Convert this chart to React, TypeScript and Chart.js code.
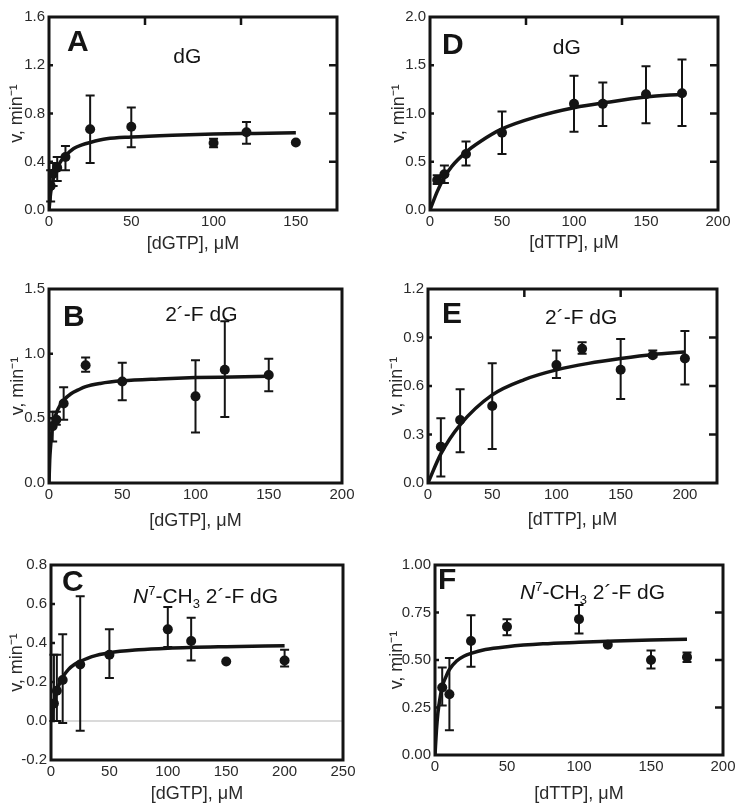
import React, { useEffect, useRef } from 'react';
import { Chart, registerables } from 'chart.js';

Chart.register(...registerables);

const FONT = '"Liberation Sans", Arial, Helvetica, sans-serif';

// ---------- Panel A : dG, [dGTP] ----------
const aX = [1, 2.5, 5, 10, 25, 50, 100, 120, 150];
const aY = [0.2, 0.3, 0.35, 0.44, 0.67, 0.69, 0.555, 0.645, 0.56];
const aLo = [0.07, 0.2, 0.24, 0.33, 0.39, 0.52, 0.52, 0.55, null];
const aHi = [0.33, 0.39, 0.44, 0.53, 0.95, 0.85, 0.59, 0.73, null];
const aFitX = [0, 1, 2, 3, 5, 7.5, 10, 15, 20, 25, 35, 50, 75, 100, 125, 150];
const aFitY = [0, 0.14, 0.22, 0.28, 0.35, 0.41, 0.45, 0.51, 0.54, 0.56, 0.59, 0.605, 0.62, 0.63, 0.635, 0.64];
const aXTicks = [0, 50, 100, 150];
const aYTicks = [0, 0.4, 0.8, 1.2, 1.6];

// ---------- Panel B : 2'-F dG, [dGTP] ----------
const bX = [2.5, 5, 10, 25, 50, 100, 120, 150];
const bY = [0.44, 0.49, 0.615, 0.91, 0.785, 0.67, 0.875, 0.835];
const bLo = [0.32, 0.45, 0.49, 0.86, 0.64, 0.39, 0.51, 0.71];
const bHi = [0.55, 0.55, 0.74, 0.97, 0.93, 0.95, 1.25, 0.96];
const bFitX = [0, 0.5, 1, 2, 3, 5, 7.5, 10, 15, 20, 25, 35, 50, 75, 100, 125, 150];
const bFitY = [0, 0.18, 0.27, 0.4, 0.46, 0.54, 0.6, 0.64, 0.69, 0.72, 0.745, 0.77, 0.79, 0.805, 0.815, 0.82, 0.825];
const bXTicks = [0, 50, 100, 150, 200];
const bYTicks = [0, 0.5, 1.0, 1.5];

// ---------- Panel C : N7-CH3 2'-F dG, [dGTP] ----------
const cX = [2.5, 5, 10, 25, 50, 100, 120, 150, 200];
const cY = [0.09, 0.155, 0.21, 0.29, 0.34, 0.47, 0.41, 0.305, 0.31];
const cLo = [0, 0, -0.01, -0.05, 0.22, 0.38, 0.31, null, 0.28];
const cHi = [0.34, 0.34, 0.445, 0.64, 0.47, 0.585, 0.53, null, 0.365];
const cFitX = [0, 2.5, 5, 7.5, 10, 15, 20, 25, 35, 50, 75, 100, 150, 200];
const cFitY = [0, 0.09, 0.155, 0.195, 0.225, 0.265, 0.29, 0.305, 0.33, 0.35, 0.365, 0.373, 0.381, 0.386];
const cXTicks = [0, 50, 100, 150, 200, 250];
const cYTicks = [-0.2, 0, 0.2, 0.4, 0.6, 0.8];

// ---------- Panel D : dG, [dTTP] ----------
const dX = [5, 10, 25, 50, 100, 120, 150, 175];
const dY = [0.31, 0.37, 0.58, 0.8, 1.1, 1.1, 1.2, 1.21];
const dLo = [0.27, 0.28, 0.46, 0.58, 0.81, 0.87, 0.9, 0.87];
const dHi = [0.36, 0.46, 0.71, 1.02, 1.39, 1.32, 1.49, 1.56];
const dFitX = [0, 5, 10, 15, 25, 35, 50, 75, 100, 125, 150, 175];
const dFitY = [0, 0.19, 0.34, 0.45, 0.6, 0.71, 0.84, 0.97, 1.06, 1.12, 1.17, 1.2];
const dXTicks = [0, 50, 100, 150, 200];
const dYTicks = [0, 0.5, 1.0, 1.5, 2.0];

// ---------- Panel E : 2'-F dG, [dTTP] ----------
const eX = [10, 25, 50, 100, 120, 150, 175, 200];
const eY = [0.225, 0.39, 0.476, 0.73, 0.83, 0.7, 0.79, 0.77];
const eLo = [0.04, 0.19, 0.21, 0.65, 0.8, 0.52, 0.78, 0.61];
const eHi = [0.4, 0.58, 0.74, 0.82, 0.87, 0.89, 0.82, 0.94];
const eFitX = [0, 10, 25, 50, 75, 100, 125, 150, 175, 200];
const eFitY = [0, 0.18, 0.36, 0.545, 0.64, 0.7, 0.74, 0.77, 0.795, 0.81];
const eXTicks = [0, 50, 100, 150, 200];
const eYTicks = [0, 0.3, 0.6, 0.9, 1.2];

// ---------- Panel F : N7-CH3 2'-F dG, [dTTP] ----------
const fX = [5, 10, 25, 50, 100, 120, 150, 175];
const fY = [0.355, 0.32, 0.6, 0.675, 0.715, 0.58, 0.5, 0.515];
const fLo = [0.26, 0.13, 0.465, 0.63, 0.64, null, 0.455, 0.49];
const fHi = [0.46, 0.51, 0.735, 0.715, 0.79, null, 0.55, 0.54];
const fFitX = [0, 1, 2, 3.5, 5, 7.5, 10, 15, 20, 25, 35, 50, 75, 100, 125, 150, 175];
const fFitY = [0, 0.13, 0.22, 0.3, 0.36, 0.41, 0.45, 0.495, 0.52, 0.535, 0.555, 0.57, 0.585, 0.593, 0.6, 0.605, 0.609];
const fXTicks = [0, 50, 100, 150, 200];
const fYTicks = [0, 0.25, 0.5, 0.75, 1.0];

const Y_TITLE = 'v, min\u207B\u00B9';
const XG = '[dGTP], \u03BCM';
const XT = '[dTTP], \u03BCM';
const LBL_DG = 'dG';
const LBL_F = '2\u00B4-F dG';
const LBL_N7 = [
  { t: 'N', italic: true },
  { t: '7', sup: true },
  { t: '-CH' },
  { t: '3', sub: true },
  { t: ' 2\u00B4-F dG' },
];

// layout margins around plot area inside each canvas
const LM = 50, RM = 24, TM = 12, BM = 50;
const TICK_SIZE = 15;
const TITLE_SIZE = 18;
const TITLE_HALF = (TITLE_SIZE * 1.2) / 2;

type Panel = {
  key: string;
  letter: string;
  plot: { l: number; t: number; r: number; b: number };
  xs: number[]; ys: number[]; lo: (number | null)[]; hi: (number | null)[];
  fitX: number[]; fitY: number[];
  xTicks: number[]; yTicks: number[];
  xMax: number; yMin: number; yMax: number; yDec: number;
  xTitle: string;
  xtGap: number; ytGap: number;
  letterPos: [number, number];
  label: string | any[];
  labelPos: { cx?: number; lx?: number; by: number };
  rightTicks: boolean; topTicks: boolean; zeroLine?: boolean;
};

const panels: Panel[] = [
  {
    key: 'A', letter: 'A', plot: { l: 49, t: 16, r: 337, b: 210 },
    xs: aX, ys: aY, lo: aLo, hi: aHi, fitX: aFitX, fitY: aFitY,
    xTicks: aXTicks, yTicks: aYTicks, xMax: 175, yMin: 0, yMax: 1.6, yDec: 1,
    xTitle: XG, xtGap: 34, ytGap: 32, letterPos: [18, 34],
    label: LBL_DG, labelPos: { cx: 0.48, by: 46 }, rightTicks: true, topTicks: true,
  },
  {
    key: 'D', letter: 'D', plot: { l: 430, t: 16, r: 718, b: 210 },
    xs: dX, ys: dY, lo: dLo, hi: dHi, fitX: dFitX, fitY: dFitY,
    xTicks: dXTicks, yTicks: dYTicks, xMax: 200, yMin: 0, yMax: 2.0, yDec: 1,
    xTitle: XT, xtGap: 33, ytGap: 31, letterPos: [12, 37],
    label: LBL_DG, labelPos: { cx: 0.475, by: 37 }, rightTicks: true, topTicks: true,
  },
  {
    key: 'B', letter: 'B', plot: { l: 49, t: 288, r: 342, b: 483 },
    xs: bX, ys: bY, lo: bLo, hi: bHi, fitX: bFitX, fitY: bFitY,
    xTicks: bXTicks, yTicks: bYTicks, xMax: 200, yMin: 0, yMax: 1.5, yDec: 1,
    xTitle: XG, xtGap: 38, ytGap: 31, letterPos: [14, 37],
    label: LBL_F, labelPos: { cx: 0.52, by: 32 }, rightTicks: false, topTicks: false,
  },
  {
    key: 'E', letter: 'E', plot: { l: 428, t: 288, r: 717, b: 483 },
    xs: eX, ys: eY, lo: eLo, hi: eHi, fitX: eFitX, fitY: eFitY,
    xTicks: eXTicks, yTicks: eYTicks, xMax: 225, yMin: 0, yMax: 1.2, yDec: 1,
    xTitle: XT, xtGap: 37, ytGap: 31, letterPos: [14, 34],
    label: LBL_F, labelPos: { cx: 0.53, by: 35 }, rightTicks: true, topTicks: true,
  },
  {
    key: 'C', letter: 'C', plot: { l: 51, t: 564, r: 343, b: 760 },
    xs: cX, ys: cY, lo: cLo, hi: cHi, fitX: cFitX, fitY: cFitY,
    xTicks: cXTicks, yTicks: cYTicks, xMax: 250, yMin: -0.2, yMax: 0.8, yDec: 1,
    xTitle: XG, xtGap: 34, ytGap: 34, letterPos: [11, 26],
    label: LBL_N7, labelPos: { lx: 82, by: 38 }, rightTicks: false, topTicks: false, zeroLine: true,
  },
  {
    key: 'F', letter: 'F', plot: { l: 435, t: 564, r: 723, b: 755 },
    xs: fX, ys: fY, lo: fLo, hi: fHi, fitX: fFitX, fitY: fFitY,
    xTicks: fXTicks, yTicks: fYTicks, xMax: 200, yMin: 0, yMax: 1.0, yDec: 2,
    xTitle: XT, xtGap: 39, ytGap: 38, letterPos: [3, 24],
    label: LBL_N7, labelPos: { lx: 85, by: 34 }, rightTicks: true, topTicks: false,
  },
];

const INK = '#141414';
const TXT = '#2a2a2a';

const panelDecor = {
  id: 'panelDecor',
  beforeDatasetsDraw(chart: any, _args: any, opts: any) {
    const p: Panel = opts.panel;
    if (!p) return;
    const { ctx, chartArea: ca } = chart;
    const xs = chart.scales.x, ys = chart.scales.y;
    ctx.save();
    if (p.zeroLine) {
      const y0 = ys.getPixelForValue(0);
      ctx.strokeStyle = '#b5b5b5';
      ctx.lineWidth = 1;
      ctx.beginPath();
      ctx.moveTo(ca.left, y0);
      ctx.lineTo(ca.right, y0);
      ctx.stroke();
    }
    ctx.strokeStyle = INK;
    ctx.lineWidth = 2;
    for (let i = 0; i < p.xs.length; i++) {
      const lo = p.lo[i], hi = p.hi[i];
      if (lo == null || hi == null) continue;
      const px = xs.getPixelForValue(p.xs[i]);
      const pl = ys.getPixelForValue(lo);
      const ph = ys.getPixelForValue(hi);
      ctx.beginPath();
      ctx.moveTo(px, pl); ctx.lineTo(px, ph);
      ctx.moveTo(px - 4.5, pl); ctx.lineTo(px + 4.5, pl);
      ctx.moveTo(px - 4.5, ph); ctx.lineTo(px + 4.5, ph);
      ctx.stroke();
    }
    ctx.restore();
  },
  afterDraw(chart: any, _args: any, opts: any) {
    const p: Panel = opts.panel;
    if (!p) return;
    const { ctx, chartArea: ca } = chart;
    const xs = chart.scales.x, ys = chart.scales.y;
    ctx.save();
    ctx.strokeStyle = INK;
    // inner ticks
    ctx.lineWidth = 2.5;
    ctx.beginPath();
    for (const v of p.yTicks) {
      const py = ys.getPixelForValue(v);
      if (py <= ca.top + 2 || py >= ca.bottom - 2) continue;
      ctx.moveTo(ca.left, py); ctx.lineTo(ca.left + 4, py);
      if (p.rightTicks) { ctx.moveTo(ca.right, py); ctx.lineTo(ca.right - 8, py); }
    }
    if (p.topTicks) {
      for (const f of [1 / 3, 2 / 3]) {
        const px = xs.getPixelForValue(p.xMax * f);
        ctx.moveTo(px, ca.top); ctx.lineTo(px, ca.top + 8);
      }
    }
    ctx.stroke();
    // frame
    ctx.lineWidth = 3;
    ctx.strokeRect(ca.left, ca.top, ca.right - ca.left, ca.bottom - ca.top);
    // panel letter
    ctx.fillStyle = INK;
    ctx.textBaseline = 'alphabetic';
    ctx.textAlign = 'left';
    ctx.font = `bold 30px ${FONT}`;
    ctx.fillText(p.letter, ca.left + p.letterPos[0], ca.top + p.letterPos[1]);
    // inner label
    const size = 21;
    const by = ca.top + p.labelPos.by;
    if (typeof p.label === 'string') {
      ctx.font = `${size}px ${FONT}`;
      ctx.textAlign = 'center';
      const cx = ca.left + (ca.right - ca.left) * (p.labelPos.cx || 0.5);
      ctx.fillText(p.label, cx, by);
    } else {
      let x = ca.left + (p.labelPos.lx || 0);
      for (const part of p.label) {
        const s = part.sup || part.sub ? 13 : size;
        ctx.font = `${part.italic ? 'italic ' : ''}${s}px ${FONT}`;
        const dy = part.sup ? -8 : part.sub ? 5 : 0;
        ctx.fillText(part.t, x, by + dy);
        x += ctx.measureText(part.t).width;
      }
    }
    ctx.restore();
  },
};

function PanelChart({ p }: { p: Panel }) {
  const ref = useRef<HTMLCanvasElement | null>(null);
  useEffect(() => {
    if (!ref.current) return;
    const titleFont = { family: FONT, size: TITLE_SIZE };
    const tickFont = { family: FONT, size: TICK_SIZE };
    const chart = new Chart(ref.current, {
      type: 'scatter',
      data: {
        datasets: [
          {
            data: p.fitX.map((v, i) => ({ x: v, y: p.fitY[i] })),
            showLine: true,
            borderColor: INK,
            borderWidth: 3.5,
            pointRadius: 0,
            cubicInterpolationMode: 'monotone',
            fill: false,
            order: 2,
          } as any,
          {
            data: p.xs.map((v, i) => ({ x: v, y: p.ys[i] })),
            backgroundColor: INK,
            borderColor: INK,
            pointRadius: 5,
            pointBorderWidth: 0,
            order: 1,
          },
        ],
      },
      options: {
        animation: false,
        responsive: true,
        maintainAspectRatio: false,
        layout: { padding: { left: 0, right: RM, top: TM, bottom: 0 } },
        plugins: {
          legend: { display: false },
          tooltip: { enabled: false },
          panelDecor: { panel: p },
        } as any,
        scales: {
          x: {
            type: 'linear',
            min: 0,
            max: p.xMax,
            grid: { display: false, drawTicks: false },
            border: { display: false },
            afterBuildTicks: (s: any) => { s.ticks = p.xTicks.map((v) => ({ value: v })); },
            afterFit: (s: any) => { s.height = BM; },
            ticks: {
              font: tickFont, color: TXT, padding: 3, maxRotation: 0, autoSkip: false,
              callback: (v: any) => String(v),
            },
            title: {
              display: true, text: p.xTitle, font: titleFont, color: TXT,
              padding: { top: 0, bottom: Math.max(0, BM - TITLE_HALF - p.xtGap) },
            },
          },
          y: {
            type: 'linear',
            min: p.yMin,
            max: p.yMax,
            grid: { display: false, drawTicks: false },
            border: { display: false },
            afterBuildTicks: (s: any) => { s.ticks = p.yTicks.map((v) => ({ value: v })); },
            afterFit: (s: any) => { s.width = LM; },
            ticks: {
              font: tickFont, color: TXT, padding: 4, autoSkip: false,
              callback: (v: any) => Number(v).toFixed(p.yDec),
            },
            title: {
              display: true, text: Y_TITLE, font: titleFont, color: TXT,
              padding: { top: Math.max(0, LM - p.ytGap - TITLE_HALF), bottom: 0 },
            },
          },
        },
      } as any,
      plugins: [panelDecor as any],
    });
    return () => chart.destroy();
  }, [p]);
  const w = p.plot.r - p.plot.l + LM + RM;
  const h = p.plot.b - p.plot.t + TM + BM;
  return (
    <div style={{ position: 'absolute', left: p.plot.l - LM, top: p.plot.t - TM, width: w, height: h }}>
      <canvas ref={ref} />
    </div>
  );
}

export default function App() {
  return (
    <div style={{ position: 'absolute', left: 0, top: 0, width: 737, height: 807, background: '#fff', overflow: 'hidden' }}>
      {panels.map((p) => (
        <PanelChart key={p.key} p={p} />
      ))}
    </div>
  );
}
